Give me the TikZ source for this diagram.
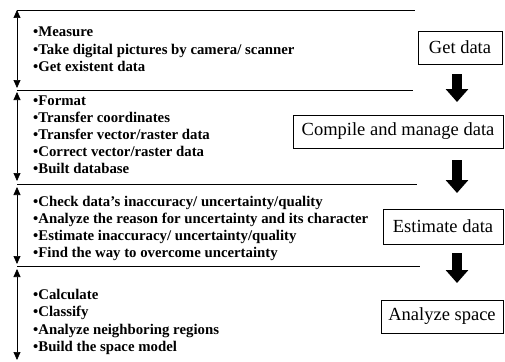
\documentclass[tikz,border=0pt]{standalone}
\usepackage{fontspec}
\setmainfont{Liberation Serif}
\usetikzlibrary{arrows.meta}
\begin{document}
\begin{tikzpicture}[x=1pt,y=-1pt,
  item/.style={anchor=base west, inner sep=0pt, font=\fontsize{14.8}{17}\selectfont\bfseries},
  stage/.style={draw, line width=0.6pt, inner sep=0pt, font=\fontsize{18.5}{20}\selectfont},
  sepline/.style={line width=0.7pt},
  span/.style={line width=0.7pt, {Triangle[length=8pt,width=7pt]}-{Triangle[length=8pt,width=7pt]}},
  flow/.style={line width=10pt, -{Triangle[length=13pt,width=22pt]}}]
\useasboundingbox (0,0) rectangle (505,361);

% separator lines
\coordinate (l1a) at (17,10);  \coordinate (l1b) at (415,10);
\coordinate (l2a) at (17,90);  \coordinate (l2b) at (413,90);
\coordinate (l3a) at (17,184); \coordinate (l3b) at (417,184);
\coordinate (l4a) at (17,266); \coordinate (l4b) at (420,266);
\draw[sepline] (l1a) -- (l1b);
\draw[sepline] (l2a) -- (l2b);
\draw[sepline] (l3a) -- (l3b);
\draw[sepline] (l4a) -- (l4b);

% span arrows
\coordinate (s1a) at (17,10);  \coordinate (s1b) at (17,88);
\coordinate (s2a) at (17,92);  \coordinate (s2b) at (17,181);
\coordinate (s3a) at (17,187); \coordinate (s3b) at (17,264);
\coordinate (s4a) at (17,269); \coordinate (s4b) at (17,360);
\draw[span] (s1a) -- (s1b);
\draw[span] (s2a) -- (s2b);
\draw[span] (s3a) -- (s3b);
\draw[span] (s4a) -- (s4b);

% block 1
\node[item] (a1) at (33,37) {•Measure};
\node[item] (a2) at (33,54) {•Take digital pictures by camera/ scanner};
\node[item] (a3) at (33,71) {•Get existent data};
% block 2
\node[item] (b1) at (33,105) {•Format};
\node[item] (b2) at (33,122) {•Transfer coordinates};
\node[item] (b3) at (33,139) {•Transfer vector/raster data};
\node[item] (b4) at (33,156) {•Correct vector/raster data};
\node[item] (b5) at (33,173) {•Built database};
% block 3
\node[item] (c1) at (33,206) {•Check data’s inaccuracy/ uncertainty/quality};
\node[item] (c2) at (33,223) {•Analyze the reason for uncertainty and its character};
\node[item] (c3) at (33,240) {•Estimate inaccuracy/ uncertainty/quality};
\node[item] (c4) at (33,257) {•Find the way to overcome uncertainty};
% block 4
\node[item] (d1) at (33,299) {•Calculate};
\node[item] (d2) at (33,316) {•Classify};
\node[item] (d3) at (33,334) {•Analyze neighboring regions};
\node[item] (d4) at (33,351) {•Build the space model};

% stage boxes
\node[stage, minimum width=84pt, minimum height=33pt] (get) at (460,47.5) {Get data};
\node[stage, minimum width=210pt, minimum height=33pt] (comp) at (398,131.5) {Compile and manage data};
\node[stage, minimum width=120pt, minimum height=35pt] (est) at (443,226.5) {Estimate data};
\node[stage, minimum width=122pt, minimum height=33pt] (spc) at (442,316.5) {Analyze space};

% flow arrows
\coordinate (f1a) at (457,74);  \coordinate (f1b) at (457,102);
\coordinate (f2a) at (457,160); \coordinate (f2b) at (457,193);
\coordinate (f3a) at (457,253); \coordinate (f3b) at (457,283);
\draw[flow] (f1a) -- (f1b);
\draw[flow] (f2a) -- (f2b);
\draw[flow] (f3a) -- (f3b);
\end{tikzpicture}
\end{document}
